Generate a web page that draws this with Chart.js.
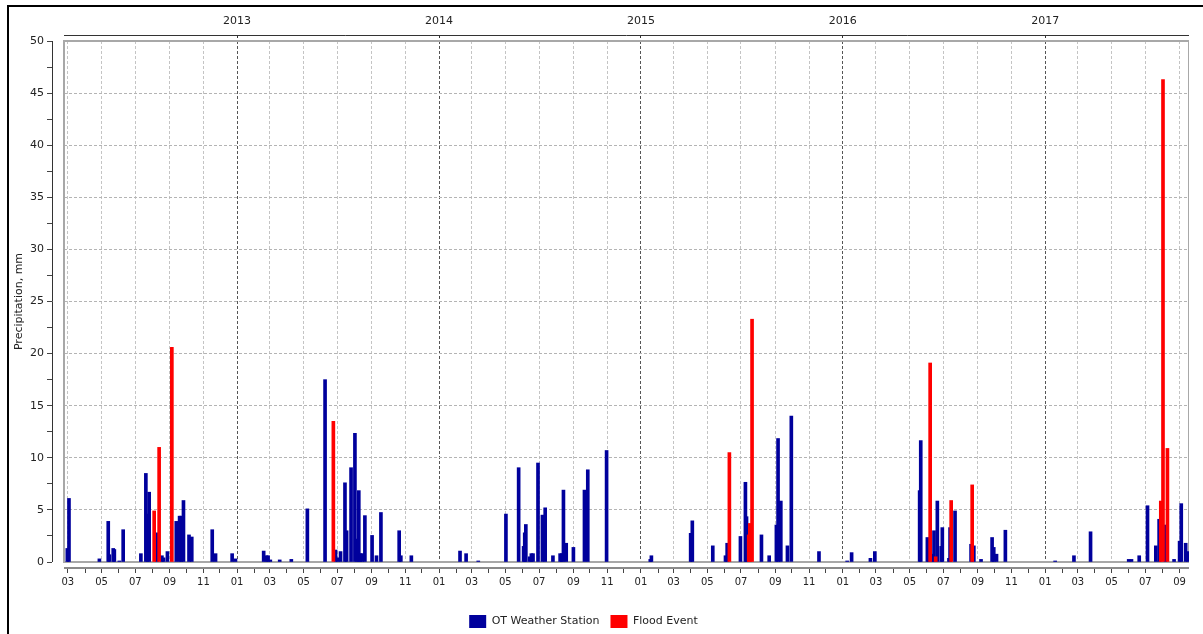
<!DOCTYPE html>
<html>
<head>
<meta charset="utf-8">
<title>Precipitation</title>
<script src="https://cdn.jsdelivr.net/npm/chart.js@4.4.1/dist/chart.umd.min.js"></script>
<style>
  html, body { margin: 0; padding: 0; background: #fff; overflow: hidden; }
  #wrap { position: relative; width: 1203px; height: 634px; overflow: hidden; }
  #frame { position: absolute; left: 7px; top: 5px; width: 1300px; height: 700px;
           border: 2px solid #000; box-sizing: border-box; pointer-events: none; }
  #c { position: absolute; left: -22px; top: 0; }
</style>
</head>
<body>
<div id="wrap">
  <div id="frame"></div>
  <canvas id="c" width="1211" height="638"></canvas>
</div>
<script>
// Daily precipitation at the OT weather station (mm)
const stationDates = [
  '2012-02-29','2012-03-03','2012-04-27','2012-05-13','2012-05-15','2012-05-22','2012-05-24','2012-06-02',
  '2012-06-09','2012-07-11','2012-07-20','2012-07-23','2012-07-26','2012-08-09','2012-08-18','2012-08-21',
  '2012-08-28','2012-09-13','2012-09-19','2012-09-22','2012-09-26','2012-10-06','2012-10-11','2012-11-17',
  '2012-11-23','2012-12-23','2012-12-29',
  '2013-02-18','2013-02-23','2013-02-26','2013-03-02','2013-03-19','2013-04-09','2013-05-08','2013-06-09',
  '2013-06-28','2013-07-02','2013-07-07','2013-07-15','2013-07-18','2013-07-26','2013-08-02','2013-08-06',
  '2013-08-09','2013-08-12','2013-08-15','2013-08-20','2013-09-02','2013-09-10','2013-09-18','2013-10-21',
  '2013-10-24','2013-11-12',
  '2014-02-08','2014-02-19','2014-03-13','2014-05-02','2014-05-25','2014-06-03','2014-06-05','2014-06-07',
  '2014-06-14','2014-06-17','2014-06-20','2014-06-29','2014-07-07','2014-07-12','2014-07-26','2014-08-08',
  '2014-08-11','2014-08-14','2014-08-19','2014-09-01','2014-09-21','2014-09-27','2014-10-31',
  '2015-01-18','2015-01-20','2015-04-01','2015-04-04','2015-05-11','2015-06-03','2015-06-06','2015-06-30',
  '2015-07-09','2015-07-11','2015-08-07','2015-08-21','2015-09-03','2015-09-06','2015-09-11','2015-09-23',
  '2015-09-30','2015-11-19',
  '2016-01-09','2016-01-17','2016-02-20','2016-02-28','2016-05-19','2016-05-21','2016-06-02','2016-06-04',
  '2016-06-11','2016-06-14','2016-06-20','2016-06-27','2016-06-29','2016-07-11','2016-07-13','2016-07-22',
  '2016-08-20','2016-08-25','2016-09-07','2016-09-27','2016-09-30','2016-10-05','2016-10-21',
  '2017-01-19','2017-02-22','2017-03-24','2017-06-01','2017-06-06','2017-06-20','2017-07-05','2017-07-20',
  '2017-07-26','2017-08-06','2017-08-22','2017-09-01','2017-09-04','2017-09-12','2017-09-16'
];
const stationMm = [
  1.3, 6.1, 0.3, 3.9, 0.7, 1.3, 1.2, 0.1,
  3.1, 0.8, 8.5, 4.6, 6.7, 2.8, 0.6, 0.4,
  1.0, 3.9, 4.4, 4.4, 5.9, 2.6, 2.4, 3.1,
  0.8, 0.8, 0.3,
  1.05, 0.6, 0.6, 0.2, 0.2, 0.25, 5.1, 17.5,
  1.15, 0.4, 1.0, 7.6, 3.0, 9.05, 12.35, 2.2,
  6.85, 0.8, 0.8, 4.45, 2.55, 0.6, 4.75, 3.0,
  0.6, 0.6,
  1.05, 0.8, 0.1, 4.6, 9.05, 1.5, 2.8, 3.6,
  0.5, 0.8, 0.8, 9.5, 4.5, 5.2, 0.6, 0.8,
  0.8, 6.9, 1.8, 1.4, 6.9, 8.85, 10.7,
  0.25, 0.6, 2.75, 3.95, 1.55, 0.6, 1.8, 2.45,
  7.65, 4.35, 2.6, 0.6, 3.55, 11.85, 5.85, 1.55,
  14.0, 1.0,
  0.1, 0.9, 0.35, 1.0, 6.85, 11.65, 2.35, 1.4,
  0.75, 3.0, 5.85, 1.5, 3.3, 0.35, 3.3, 4.9,
  1.7, 1.55, 0.25, 2.35, 1.4, 0.75, 3.05,
  0.1, 0.6, 2.9, 0.25, 0.25, 0.6, 5.4, 1.55,
  4.1, 3.55, 0.25, 2.0, 5.6, 1.8, 1.0
];

// Days with a recorded flood event (mm)
const floodDates = [
  '2012-08-04','2012-08-13','2012-09-05','2013-06-24','2015-06-10','2015-07-15','2015-07-17','2015-07-21',
  '2016-06-07','2016-06-17','2016-07-15','2016-08-22','2017-07-29','2017-08-02','2017-08-10'
];
const floodMm = [
  4.9, 11.0, 20.6, 13.5, 10.5, 2.6, 3.7, 23.3,
  19.1, 0.5, 5.9, 7.4, 5.85, 46.3, 10.9
];

const monthLabels = ['01','02','03','04','05','06','07','08','09','10','11','12'];
const yearLabels = ['2013','2014','2015','2016','2017'];
const axisStart = '2012-02-23';
const axisEnd = '2017-09-18';
const seriesNames = ['OT Weather Station', 'Flood Event'];

const DAY = 86400000;
function dayNum(s) {
  const p = s.split('-').map(Number);
  return Date.UTC(p[0], p[1] - 1, p[2]) / DAY;
}
function monthOf(v) { return new Date(v * DAY).getUTCMonth(); }
function tickValue(ctx) { return ctx && ctx.tick ? ctx.tick.value : null; }

const xMin = dayNum(axisStart);
const xMax = dayNum(axisEnd);

// month-start ticks across the range
const monthTicks = [];
for (let y = 2012; y <= 2017; y++) {
  for (let m = 0; m < 12; m++) {
    const v = Date.UTC(y, m, 1) / DAY;
    if (v >= xMin && v <= xMax) monthTicks.push(v);
  }
}
const yearTicks = yearLabels.map(y => Date.UTC(+y, 0, 1) / DAY);

const FONT = 'DejaVu Sans';

// frame around the plot plus the detached axis lines
const axisLines = {
  id: 'axisLines',
  beforeDatasetsDraw(chart) {
    const { ctx, chartArea: a } = chart;
    ctx.save();
    ctx.strokeStyle = '#a8a8a8';
    ctx.lineWidth = 2;
    ctx.strokeRect(a.left, a.top, a.right - a.left, a.bottom - a.top);
    ctx.restore();
  },
  afterDraw(chart) {
    const { ctx, chartArea: a } = chart;
    ctx.save();
    // bottom axis line
    ctx.strokeStyle = '#8a8a8a';
    ctx.lineWidth = 2;
    ctx.beginPath();
    ctx.moveTo(a.left, a.bottom + 6);
    ctx.lineTo(a.right, a.bottom + 6);
    ctx.stroke();
    // top axis line
    ctx.strokeStyle = '#333';
    ctx.lineWidth = 1;
    ctx.beginPath();
    ctx.moveTo(a.left, a.top - 5.5);
    ctx.lineTo(a.right, a.top - 5.5);
    ctx.stroke();
    // left axis line
    ctx.beginPath();
    ctx.moveTo(a.left - 11.5, a.top);
    ctx.lineTo(a.left - 11.5, a.bottom);
    ctx.stroke();
    ctx.restore();
  }
};

new Chart(document.getElementById('c'), {
  type: 'bar',
  data: {
    datasets: [
      {
        label: seriesNames[0],
        data: stationDates.map((d, i) => ({ x: dayNum(d), y: stationMm[i] })),
        backgroundColor: '#00009c',
        borderWidth: 0,
        barThickness: 3,
        grouped: false,
        order: 2
      },
      {
        label: seriesNames[1],
        data: floodDates.map((d, i) => ({ x: dayNum(d), y: floodMm[i] })),
        backgroundColor: '#ff0000',
        borderWidth: 0,
        barThickness: 3,
        grouped: false,
        order: 1
      }
    ]
  },
  options: {
    responsive: false,
    animation: false,
    devicePixelRatio: 1,
    layout: { padding: 0 },
    plugins: {
      legend: {
        position: 'bottom',
        labels: {
          boxWidth: 17,
          boxHeight: 13,
          padding: 11,
          color: '#222',
          font: { family: FONT, size: 11 },
          sort: (a, b) => a.datasetIndex - b.datasetIndex
        }
      },
      tooltip: { enabled: false }
    },
    scales: {
      x: {
        type: 'linear',
        position: 'bottom',
        min: xMin,
        max: xMax,
        offset: false,
        afterBuildTicks(scale) { scale.ticks = monthTicks.map(v => ({ value: v })); },
        afterFit(scale) { scale.height = 42; },
        border: { display: false, dash: [3, 2] },
        grid: {
          offset: false,
          color(ctx) {
            const v = tickValue(ctx);
            if (v === null) return 'rgba(0,0,0,0)';
            const m = monthOf(v);
            if (m % 2 !== 0) return 'rgba(0,0,0,0)';
            return m === 0 ? '#555' : '#c4c4c4';
          },
          lineWidth: 1,
          tickLength: 11,
          tickColor: '#444',
          tickBorderDash: [0, 6, 5, 200]
        },
        ticks: {
          autoSkip: false,
          maxRotation: 0,
          minRotation: 0,
          padding: 3,
          color: '#222',
          font: { family: FONT, size: 10 },
          callback(v) {
            const m = monthOf(v);
            return m % 2 === 0 ? monthLabels[m] : '';
          }
        }
      },
      xTop: {
        type: 'linear',
        position: 'top',
        min: xMin,
        max: xMax,
        offset: false,
        afterBuildTicks(scale) { scale.ticks = yearTicks.map(v => ({ value: v })); },
        afterFit(scale) { scale.height = 41; },
        border: { display: false },
        grid: {
          offset: false,
          drawOnChartArea: false,
          tickLength: 6,
          tickColor: '#333',
          tickBorderDash: [3, 100]
        },
        ticks: {
          autoSkip: false,
          maxRotation: 0,
          padding: 7,
          color: '#222',
          font: { family: FONT, size: 11 },
          callback(v, i) { return yearLabels[i]; }
        }
      },
      y: {
        type: 'linear',
        position: 'left',
        min: 0,
        max: 50,
        afterBuildTicks(scale) {
          const t = [];
          for (let v = 0; v <= 50; v += 2.5) t.push({ value: v });
          scale.ticks = t;
        },
        afterFit(scale) { scale.width = 86; },
        border: { display: false, dash: [3, 2] },
        grid: {
          color(ctx) {
            const v = tickValue(ctx);
            if (v === null) return 'rgba(0,0,0,0)';
            return (v % 5 === 0 && v > 0 && v < 50) ? '#b4b4b4' : 'rgba(0,0,0,0)';
          },
          lineWidth: 1,
          tickLength: 17,
          tickColor: '#444',
          tickBorderDash: [5, 100]
        },
        ticks: {
          padding: 3,
          color: '#222',
          font: { family: FONT, size: 11 },
          callback(v) { return v % 5 === 0 ? String(v) : ''; }
        },
        title: {
          display: true,
          text: 'Precipitation, mm',
          color: '#222',
          font: { family: FONT, size: 11 },
          padding: { top: 35, bottom: 0 }
        }
      }
    }
  },
  plugins: [axisLines]
});
</script>
</body>
</html>
